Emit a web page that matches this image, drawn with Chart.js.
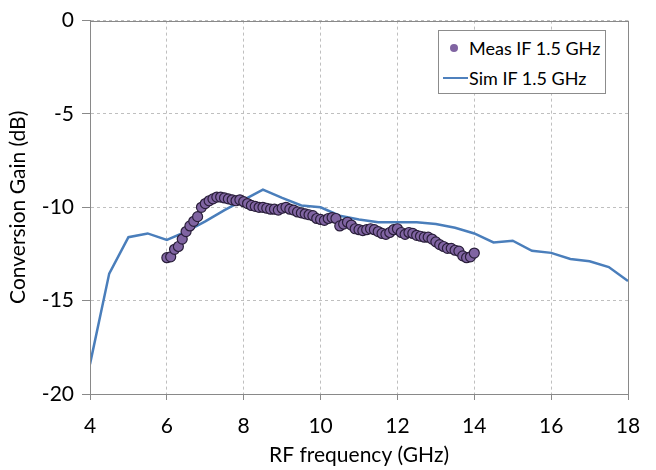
<!DOCTYPE html>
<html>
<head>
<meta charset="utf-8">
<script src="https://cdn.jsdelivr.net/npm/chart.js@4"></script>
<style>
  html, body { margin: 0; padding: 0; background: #fff; }
  #wrap { position: relative; width: 656px; height: 470px; }
  .legend {
    position: absolute; left: 438px; top: 30px; width: 166px; height: 62px;
    border: 1px solid #8c8c8c; background: #fff;
    font-family: Lato, sans-serif; font-size: 18px; color: #000;
  }
  .leg-row { position: absolute; left: 0; height: 24px; line-height: 24px; white-space: nowrap; }
  .leg-dot { position: absolute; left: 11px; top: 8px; width: 8px; height: 8px; border-radius: 50%; background: #8064A2; }
  .leg-line { position: absolute; left: 4px; top: 11px; width: 25px; height: 2px; background: #4F81BD; }
  .leg-text { position: absolute; left: 30px; }
</style>
</head>
<body>
<div id="wrap">
  <canvas id="chart" width="656" height="470"></canvas>
  <div class="legend">
    <div class="leg-row" style="top:5px"><span class="leg-dot"></span><span class="leg-text">Meas IF 1.5 GHz</span></div>
    <div class="leg-row" style="top:35px"><span class="leg-line"></span><span class="leg-text">Sim IF 1.5 GHz</span></div>
  </div>
</div>
<script>
// simulated conversion gain, 0.5 GHz steps
const simFreq = [4, 4.5, 5, 5.5, 6, 6.5, 7, 7.5, 8, 8.5, 9, 9.5, 10, 10.5, 11, 11.5,
  12, 12.5, 13, 13.5, 14, 14.5, 15, 15.5, 16, 16.5, 17, 17.5, 18];
const simGain = [-18.4, -13.55, -11.6, -11.4, -11.75, -11.3, -10.75, -10.15, -9.6, -9.05,
  -9.5, -9.9, -10.0, -10.45, -10.65, -10.8, -10.8, -10.8, -10.9, -11.1, -11.4, -11.88,
  -11.79, -12.33, -12.44, -12.77, -12.89, -13.2, -13.95];

// measured points, 6 to 14 GHz
const measFreq = [6.0, 6.1, 6.2, 6.3, 6.4, 6.5, 6.6, 6.7, 6.8, 6.9,
  7.0, 7.1, 7.2, 7.3, 7.4, 7.5, 7.6, 7.7, 7.8, 7.9,
  8.0, 8.1, 8.2, 8.3, 8.4, 8.5, 8.6, 8.7, 8.8, 8.9,
  9.0, 9.1, 9.2, 9.3, 9.4, 9.5, 9.6, 9.7, 9.8, 9.9,
  10.0, 10.1, 10.2, 10.3, 10.4, 10.5, 10.6, 10.7, 10.8, 10.9,
  11.0, 11.1, 11.2, 11.3, 11.4, 11.5, 11.6, 11.7, 11.8, 11.9,
  12.0, 12.1, 12.2, 12.3, 12.4, 12.5, 12.6, 12.7, 12.8, 12.9,
  13.0, 13.1, 13.2, 13.3, 13.4, 13.5, 13.6, 13.7, 13.8, 13.9, 14.0];
const measGain = [-12.7, -12.65, -12.25, -12.1, -11.7, -11.3, -11.0, -10.75, -10.5, -10.0,
  -9.8, -9.65, -9.55, -9.45, -9.45, -9.5, -9.55, -9.6, -9.65, -9.6,
  -9.7, -9.8, -9.9, -9.95, -10.0, -10.0, -10.05, -10.1, -10.1, -10.15,
  -10.05, -10.0, -10.1, -10.15, -10.25, -10.3, -10.35, -10.4, -10.45, -10.6,
  -10.65, -10.7, -10.6, -10.55, -10.6, -11.0, -10.9, -10.8, -10.95, -11.15,
  -11.2, -11.25, -11.2, -11.15, -11.2, -11.3, -11.4, -11.45, -11.35, -11.2,
  -11.15, -11.35, -11.45, -11.35, -11.4, -11.5, -11.55, -11.6, -11.6, -11.7,
  -11.85, -12.0, -12.1, -12.2, -12.2, -12.3, -12.35, -12.6, -12.7, -12.65, -12.45];

const xTicks = [4, 6, 8, 10, 12, 14, 16, 18];
const yTicks = [0, -5, -10, -15, -20];

const FONT = { family: 'Lato, sans-serif', size: 21 };

const pairs = (xs, ys) => xs.map((x, i) => ({ x, y: ys[i] }));

// box round the plot area, like the Excel frame
const frame = {
  id: 'frame',
  afterDatasetsDraw(chart) {
    const { ctx, chartArea: a } = chart;
    ctx.save();
    ctx.strokeStyle = '#898989';
    ctx.lineWidth = 1;
    ctx.strokeRect(Math.round(a.left) + 0.5, Math.round(a.top) + 0.5,
      Math.round(a.right - a.left), Math.round(a.bottom - a.top));
    ctx.restore();
  }
};

new Chart(document.getElementById('chart'), {
  type: 'scatter',
  data: {
    datasets: [
      {
        label: 'Meas IF 1.5 GHz',
        data: pairs(measFreq, measGain),
        showLine: false,
        pointRadius: 5,
        pointBackgroundColor: '#8064A2',
        pointBorderColor: '#2a1f3b',
        pointBorderWidth: 1.2,
      },
      {
        label: 'Sim IF 1.5 GHz',
        data: pairs(simFreq, simGain),
        showLine: true,
        borderColor: '#4A7EBB',
        borderWidth: 2.5,
        pointRadius: 0,
        tension: 0,
      },
    ],
  },
  options: {
    responsive: false,
    animation: false,
    devicePixelRatio: 1,
    layout: { padding: { top: 15, right: 28, left: 0, bottom: 0 } },
    plugins: { legend: { display: false }, tooltip: { enabled: false } },
    scales: {
      x: {
        type: 'linear', min: 4, max: 18,
        afterBuildTicks: s => { s.ticks = xTicks.map(v => ({ value: v })); },
        afterFit: s => { s.height = 76; },
        ticks: { color: '#000', font: FONT, padding: 14, maxRotation: 0 },
        grid: { color: '#bfbfbf', tickColor: '#898989', tickLength: 6 },
        border: { color: '#898989', dash: [3, 3] },
        title: { display: true, text: 'RF frequency (GHz)', color: '#000', font: FONT, padding: { top: 0, bottom: 2 } },
      },
      y: {
        min: -20, max: 0,
        afterBuildTicks: s => { s.ticks = yTicks.map(v => ({ value: v })); },
        afterFit: s => { s.width = 90; },
        ticks: { color: '#000', font: FONT, padding: 8 },
        grid: { color: '#bfbfbf', tickColor: '#898989', tickLength: 8 },
        border: { color: '#898989', dash: [3, 3] },
        title: { display: true, text: 'Conversion Gain (dB)', color: '#000', font: FONT, padding: { top: 6, bottom: 0 } },
      },
    },
  },
  plugins: [frame],
});
</script>
</body>
</html>
